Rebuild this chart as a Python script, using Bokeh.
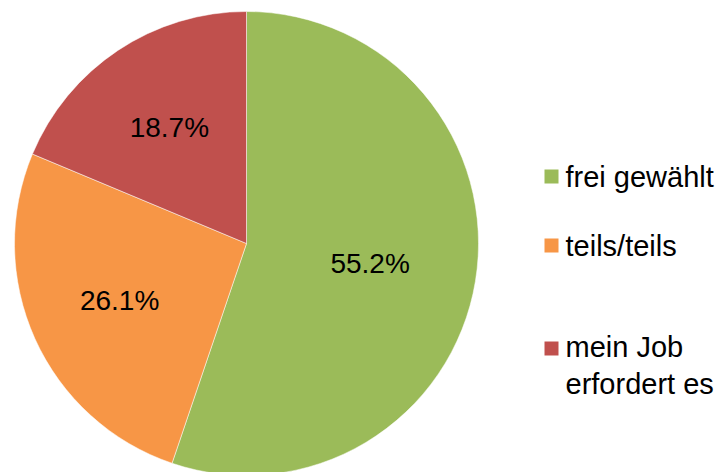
import numpy as np
from bokeh.plotting import figure
from bokeh.models import Range1d, ColumnDataSource
from bokeh.core.properties import value
from bokeh.embed import file_html
from bokeh.resources import INLINE

# ---- data ----
categories = ["frei gewählt", "teils/teils", "mein Job\nerfordert es"]
shares = [55.2, 26.1, 18.7]
colors = ["#9BBB59", "#F79646", "#C0504D"]

# ---- layout constants (pixels of the picture) ----
W, H = 719, 472
CX, CY, R = 246, 243, 232     # pie centre / radius in picture pixels
label_r = [0.54, 0.60, 0.60]  # label distance as fraction of radius
FONT = "Liberation Sans"

p = figure(width=W, height=H, output_backend="svg", toolbar_location=None,
           x_range=Range1d(0, W), y_range=Range1d(-H, 0),
           min_border=0)
p.axis.visible = False
p.grid.visible = False
p.outline_line_color = None
p.background_fill_color = "white"
p.border_fill_color = "white"

frac = np.array(shares) / sum(shares)
cum = np.cumsum(frac)
prev = np.concatenate([[0], cum[:-1]])
start = np.pi / 2 - 2 * np.pi * prev
end = np.pi / 2 - 2 * np.pi * cum
mid = (start + end) / 2

src = ColumnDataSource(dict(start=start, end=end, color=colors))
p.wedge(x=CX, y=-CY, radius=R, start_angle="start", end_angle="end",
        direction="clock", fill_color="color", line_color="white",
        line_width=0.5, source=src)

lx = CX + np.array(label_r) * R * np.cos(mid)
ly = -CY + np.array(label_r) * R * np.sin(mid)
labels = [f"{s:.1f}%" for s in shares]
p.text(x=lx, y=ly, text=labels, text_align="center", text_baseline="middle",
       text_font=value(FONT), text_font_size="28px", text_color="black")

# ---- legend ----
leg_y = [176, 245, 348]
p.rect(x=[551] * 3, y=[-v for v in leg_y], width=14, height=14,
       fill_color=colors, line_color=None)
p.text(x=[565] * 3, y=[-v for v in leg_y], text=categories,
       text_align="left", text_baseline="middle",
       text_font=value(FONT), text_font_size="29px", text_color="black",
       text_line_height=1.17,
       y_offset=[0, 0, 17])

open("out.html", "w").write(file_html(p, INLINE))
